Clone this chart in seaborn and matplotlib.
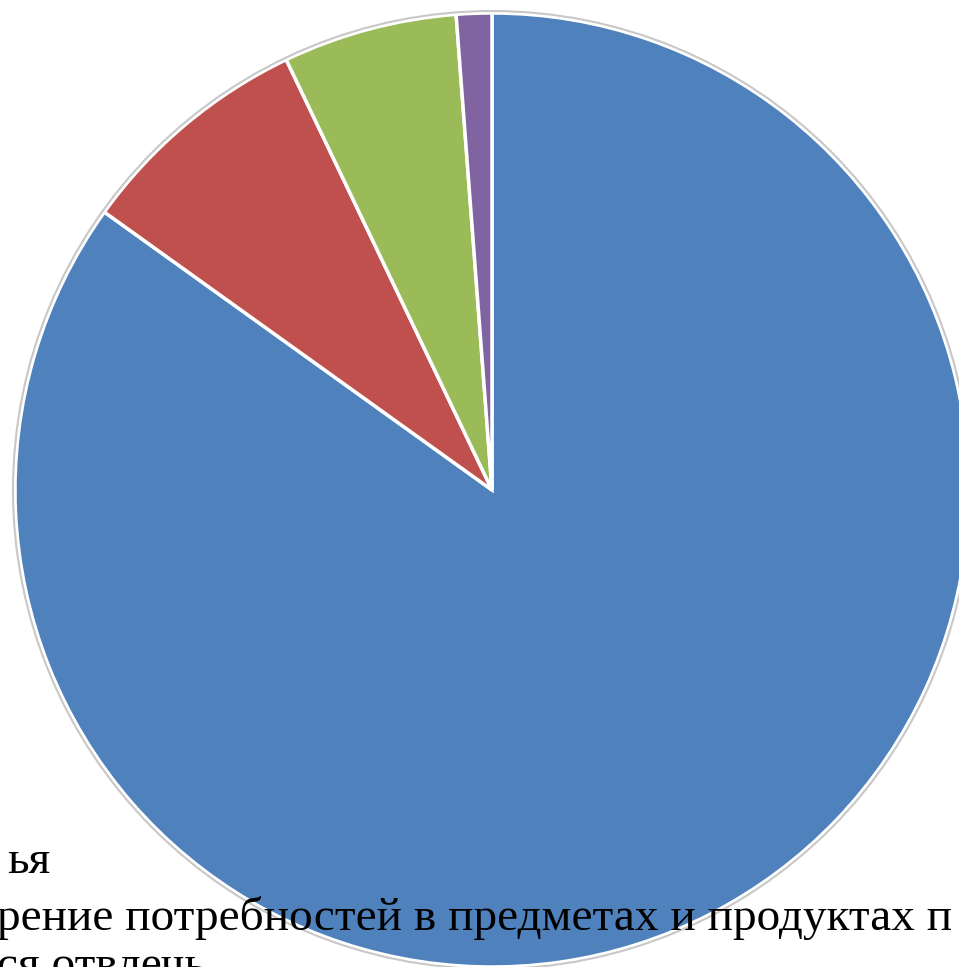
import matplotlib
matplotlib.use("Agg")
import matplotlib.pyplot as plt
from matplotlib.patches import Circle
import seaborn as sns

sns.set_theme(style="white")
plt.rcParams['font.family'] = ['Liberation Serif', 'DejaVu Serif']

# shares of the four slices, clockwise from 12 o'clock (percent)
categories = ["Семья", "Удовлетворение потребностей", "Отвлечься", "Другое"]
shares = [84.9, 8.0, 5.9, 1.2]
colors = ["#4F81BD", "#C0504D", "#9BBB59", "#8064A2"]

# legend fragments that remain visible at the lower left
legend_lines = ["ья",
                "рение потребностей в предметах и продуктах п",
                "ся отвлечь"]

W, H = 959, 967
CX, CY, R = 492, 490, 477

fig = plt.figure(figsize=(W / 100, H / 100), dpi=100)
ax = fig.add_axes([0, 0, 1, 1])

# axes measured in pixels, origin at pie centre
ax.pie(shares, colors=colors, startangle=90, counterclock=False,
       radius=R, center=(0, 0),
       wedgeprops=dict(edgecolor="white", linewidth=2.5))
ax.add_patch(Circle((0, 0), R + 2, fill=False, edgecolor="#c8c8c8", linewidth=1.5))

ax.set_xlim(-CX, W - CX)
ax.set_ylim(-(H - CY), CY)
ax.set_aspect("equal")
ax.axis("off")

# legend text, clipped by the left and bottom edges as in the source
ax.text(50 - CX, CY - 873, legend_lines[0], fontsize=34, color="black",
        ha="right", va="baseline", zorder=5)
ax.text(-CX - 3, CY - 930, legend_lines[1], fontsize=34, color="black",
        ha="left", va="baseline", zorder=5)
ax.text(-CX - 3, CY - 978, legend_lines[2], fontsize=34, color="black",
        ha="left", va="baseline", zorder=5)

fig.savefig("out.png", dpi=100)
